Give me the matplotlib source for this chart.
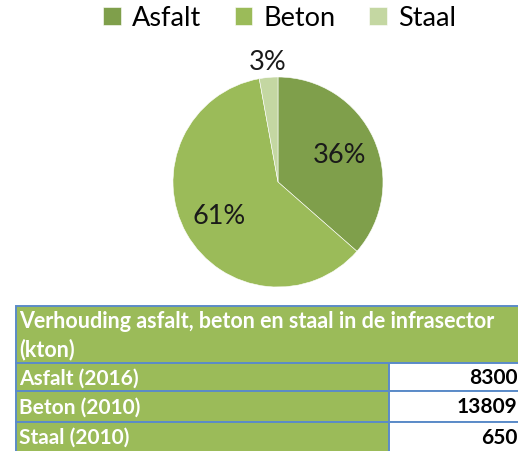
"""Pie of asphalt / concrete / steel in the infra sector, with the source table underneath."""

import matplotlib
matplotlib.use("Agg")
import matplotlib.pyplot as plt
import numpy as np

# data
materials = ["Asfalt", "Beton", "Staal"]
row_labels = ["Asfalt (2016)", "Beton (2010)", "Staal (2010)"]
kton = [8300, 13809, 650]
table_title = "Verhouding asfalt, beton en staal in de infrasector\n(kton)"

colors = ["#7F9F4B", "#9BBB59", "#C4D7A2"]
header_green = "#9BBB59"
border_blue = "#5B8BC8"

plt.rcParams["font.family"] = ["Lato", "DejaVu Sans"]

W, H = 518, 452
fig = plt.figure(figsize=(W / 100, H / 100), dpi=100)


def px_axes(left, top, right, bottom):
    """Axes from pixel box (top-left origin)."""
    return fig.add_axes([left / W, 1 - bottom / H, (right - left) / W, (bottom - top) / H])


# pie
cx, cy, r = 278, 183, 105
ax = px_axes(cx - r, cy - r, cx + r, cy + r)
wedges, _, autotexts = ax.pie(
    kton,
    colors=colors,
    startangle=90,
    counterclock=False,
    radius=1.0,
    autopct=lambda p: f"{p:.0f}%",
    pctdistance=0.64,
    wedgeprops={"edgecolor": "white", "linewidth": 0.4},
    textprops={"fontsize": 19.5, "color": "#1a1a1a"},
)
# small slice label goes outside the pie
for w, t in zip(wedges, autotexts):
    if (w.theta2 - w.theta1) < 20:
        mid = np.deg2rad((w.theta1 + w.theta2) / 2)
        t.set_position((1.15 * np.cos(mid), 1.15 * np.sin(mid)))
ax.set_xlim(-1, 1)
ax.set_ylim(-1, 1)
ax.set_aspect("equal")
ax.axis("off")

fig.legend(
    wedges, materials,
    loc="center", bbox_to_anchor=(279.5 / W, 1 - 19 / H),
    ncol=3, frameon=False, fontsize=19.5,
    handlelength=0.65, handleheight=0.65, handletextpad=0.4,
    columnspacing=1.25, borderpad=0,
)

col_w = [373, 132]
row_h = [28, 30, 30]


def style(cell, fs=15):
    cell.set_edgecolor(border_blue)
    cell.set_linewidth(1.4)
    txt = cell.get_text()
    txt.set_fontsize(fs)
    txt.set_fontweight("bold")


# table header (one merged cell)
hax = px_axes(16, 307, 521, 364)
hax.axis("off")
head = hax.table(cellText=[[table_title]], bbox=[0, 0, 1, 1], cellLoc="left")
head.auto_set_font_size(False)
hcell = head[0, 0]
style(hcell, fs=15.5)
hcell.set_facecolor(header_green)
hcell.PAD = 0.006
hcell.get_text().set_color("white")
hcell.get_text().set_linespacing(1.4)

# table body
tax = px_axes(16, 364, 521, 453)
tax.axis("off")
cell_text = [[lab, str(v)] for lab, v in zip(row_labels, kton)]
tbl = tax.table(cellText=cell_text, bbox=[0, 0, 1, 1], cellLoc="left")
tbl.auto_set_font_size(False)
for (i, j), cell in tbl.get_celld().items():
    cell.set_width(col_w[j])
    cell.set_height(row_h[i])
    style(cell)
    if j == 0:
        cell.set_facecolor(header_green)
        cell.get_text().set_color("white")
        cell.PAD = 0.008
    else:
        cell.set_facecolor("white")
        cell.get_text().set_color("black")
        cell.get_text().set_horizontalalignment("right")
        cell._loc = "right"
        cell.PAD = 0.025

fig.savefig("out.png", dpi=100)
